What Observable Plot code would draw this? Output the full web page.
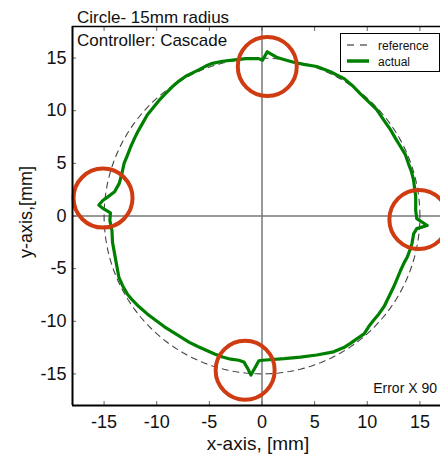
<!DOCTYPE html>
<html><head><meta charset="utf-8">
<script src="https://cdn.jsdelivr.net/npm/d3@7"></script>
<script src="https://cdn.jsdelivr.net/npm/@observablehq/plot@0.6"></script>
<style>body{margin:0;background:#fff} svg{overflow:hidden}</style>
</head><body><div id="chart"></div>
<script>
const actualX = [14.6, 14.6, 14.5, 14.4, 14.2, 13.9, 13.63, 13.15, 12.68, 12.2, 11.57, 10.9, 10.14, 9.35, 8.57, 7.8, 6.5, 5.2, 3.97, 3.0, 2.07, 1.45, 0.5, 0.05, -0.3, -1.54, -2.8, -3.75, -4.7, -5.34, -5.97, -6.6, -7.2, -7.86, -8.5, -9.1, -9.76, -10.4, -10.9, -11.35, -11.8, -12.1, -12.46, -12.77, -13.1, -13.3, -13.56, -14.0, -14.8, -15.1, -15.5, -15.15, -14.4, -14.45, -14.25, -14.2, -14.0, -13.8, -13.6, -13.25, -12.8, -12.3, -11.7, -10.9, -10.1, -9.3, -8.5, -7.7, -6.9, -6.1, -5.3, -4.5, -3.75, -2.96, -2.2, -1.73, -1.35, -1.05, -0.6, -0.3, 0.05, 2.1, 3.66, 5.2, 6.8, 7.77, 8.4, 9.04, 9.7, 10.14, 10.6, 11.1, 11.6, 12.04, 12.5, 12.84, 13.15, 13.47, 13.8, 14.1, 14.25, 14.4, 14.7, 15.7, 14.7, 14.6];
const actualY = [0.5, 1.85, 2.6, 3.4, 4.2, 5.0, 5.8, 6.6, 7.37, 8.2, 9.1, 10.1, 10.85, 11.6, 12.4, 13.05, 13.7, 14.2, 14.4, 14.6, 14.86, 15.05, 15.6, 14.8, 14.95, 14.95, 14.8, 14.7, 14.5, 14.24, 13.9, 13.6, 13.3, 12.84, 12.3, 11.7, 11.0, 10.2, 9.6, 8.8, 8.0, 7.4, 6.6, 5.8, 5.0, 4.06, 3.1, 2.3, 1.7, 1.5, 1.05, 0.75, 0.3, -0.43, -1.4, -2.5, -3.6, -4.7, -5.8, -6.6, -7.4, -8.0, -8.6, -9.3, -9.9, -10.5, -11.0, -11.5, -12.0, -12.4, -12.75, -13.1, -13.4, -13.6, -13.7, -13.86, -14.5, -15.1, -14.3, -13.75, -13.7, -13.55, -13.4, -13.2, -12.9, -12.5, -12.1, -11.65, -11.2, -10.5, -9.9, -9.3, -8.6, -7.7, -6.75, -5.95, -5.2, -4.5, -3.9, -3.1, -2.6, -1.7, -1.2, -0.9, -0.25, 0.5];
// reference circle radius (mm)
const refRadius = 15;
const refAngles = d3.range(0, 361, 2);
// highlighted regions (centres, mm)
const markX = [0.5, -15.1, 14.9, -1.6];
const markY = [14.2, 1.7, -0.33, -14.65];
const tickValues = [-15, -10, -5, 0, 5, 10, 15];
const titleLines = ["Circle- 15mm radius", "Controller: Cascade"];
const legendLabels = ["reference", "actual"];
const xLabel = "x-axis, [mm]";
const yLabel = "y-axis,[mm]";
const note = "Error X 90";

const actual = actualX.map((x, i) => ({x, y: actualY[i]}));
const reference = refAngles.map(a => ({x: refRadius * Math.cos(a * Math.PI / 180), y: refRadius * Math.sin(a * Math.PI / 180)}));
const marksData = markX.map((x, i) => ({x, y: markY[i]}));

const font = "'Liberation Sans', Arial, Helvetica, sans-serif";
const plot = Plot.plot({
  width: 440, height: 459,
  marginLeft: 72, marginTop: 26, marginBottom: 54, marginRight: 0,
  x: {domain: [-18, 18], range: [72, 451]},
  y: {domain: [-18, 18], range: [405, 26]},
  style: {fontFamily: font, fontSize: "18px", background: "#fff", color: "#111"},
  marks: [
    Plot.ruleX([0], {stroke: "#777", strokeWidth: 1.5}),
    Plot.ruleY([0], {stroke: "#777", strokeWidth: 1.5}),
    Plot.line(reference, {x: "x", y: "y", stroke: "#444", strokeWidth: 1.1, strokeDasharray: "6,5"}),
    Plot.line(actual, {x: "x", y: "y", stroke: "#008000", strokeWidth: 3.2, strokeLinejoin: "round"}),
    Plot.dot(marksData, {x: "x", y: "y", r: 29.5, stroke: "#cf3c12", strokeWidth: 4, fill: "none"}),
    Plot.axisX(tickValues, {tickSize: -4, tickPadding: 14, tickFormat: d => String(d), label: null, stroke: "#666", fontSize: 18}),
    Plot.axisX(tickValues, {anchor: "top", tickSize: -4, tickFormat: () => "", label: null, stroke: "#666"}),
    Plot.axisY(tickValues, {tickSize: -4, tickPadding: 10, tickFormat: d => String(d), label: null, stroke: "#666", fontSize: 18}),
    Plot.ruleX([-18], {stroke: "#000", strokeWidth: 2}),
    Plot.ruleY([-18], {stroke: "#000", strokeWidth: 2}),
    Plot.ruleY([18], {stroke: "#000", strokeWidth: 1.5})
  ]
});
document.getElementById("chart").appendChild(plot);

const svg = d3.select(plot);
const g = svg.append("g").attr("font-family", font).attr("fill", "#111").attr("text-anchor", "start");
// titles
g.selectAll("text.title").data(titleLines).join("text")
  .attr("x", 77).attr("y", (d, i) => 22.5 + i * 23).attr("font-size", 17).text(d => d);
// note
g.append("text").attr("x", 437).attr("y", 393).attr("text-anchor", "end").attr("font-size", 14).text(note);
// axis labels
g.append("text").attr("x", 258).attr("y", 450).attr("text-anchor", "middle").attr("font-size", 19).text(xLabel);
g.append("text").attr("transform", "translate(32,212) rotate(-90)").attr("text-anchor", "middle").attr("font-size", 18).text(yLabel);
// legend
const lg = svg.append("g").attr("font-family", font).attr("text-anchor", "start");
lg.append("rect").attr("x", 340.5).attr("y", 33.5).attr("width", 99).attr("height", 38).attr("fill", "#fff").attr("stroke", "#000").attr("stroke-width", 1);
lg.append("line").attr("x1", 347).attr("x2", 370).attr("y1", 45).attr("y2", 45).attr("stroke", "#666").attr("stroke-width", 1.3).attr("stroke-dasharray", "7,6");
lg.append("line").attr("x1", 347).attr("x2", 369).attr("y1", 61).attr("y2", 61).attr("stroke", "#008000").attr("stroke-width", 3.5);
lg.selectAll("text").data(legendLabels).join("text")
  .attr("x", 378).attr("y", (d, i) => 50 + i * 16).attr("font-size", 12).attr("fill", "#111").text(d => d);
</script>
</body></html>
